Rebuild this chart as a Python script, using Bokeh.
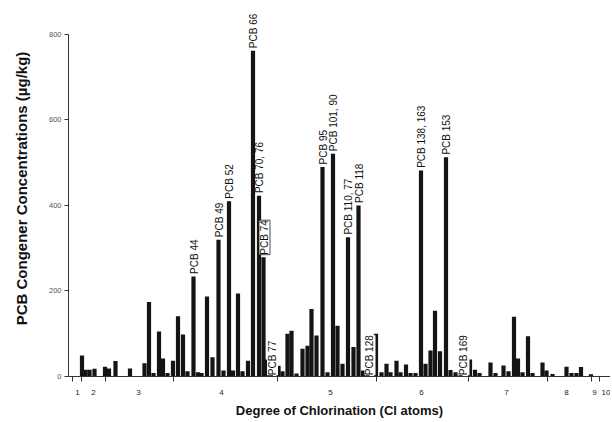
import math
from bokeh.plotting import figure
from bokeh.models import FixedTicker, Range1d, ColumnDataSource, LabelSet
from bokeh.core.properties import value
from bokeh.embed import file_html
from bokeh.resources import INLINE

# elution position along the chromatogram (arbitrary units) and concentration (µg/kg)
retention = [13.5, 17, 21, 26, 36.5, 40.5, 47, 61.5, 76, 80.5, 85, 90.5, 94.5, 99,
             104.5, 109.5, 114.5, 119, 125, 129.5, 133, 138.5, 144, 150, 155, 160.5,
             164.5, 169.5, 174, 179.5, 184.5, 190.5, 195, 198.5, 202.5, 210, 214,
             219, 223, 228, 234, 239, 243, 248, 254, 259, 264.5, 269, 274, 279.5,
             285, 290, 294.5, 299, 307.5, 313, 318, 322, 328, 332, 337.5, 342, 347,
             352.5, 357, 362, 366.5, 371.5, 377.5, 382, 387, 392, 401.5, 406.5, 411,
             422, 427, 435, 440, 445.5, 449.5, 454, 459.5, 464, 474, 478, 484, 498,
             503, 508, 512.5, 522.5]
conc = [49, 16, 16, 18, 23, 19, 36, 19, 31, 174, 8, 105, 42, 8,
        37, 141, 98, 12, 234, 10, 8, 187, 45, 320, 14, 410,
        14, 194, 12, 37, 762, 423, 279, 40, 15, 25, 12,
        100, 107, 7, 65, 72, 158, 96, 490, 10, 521, 119, 30, 326,
        69, 400, 14, 10, 100, 10, 30, 10, 37, 10, 28, 8, 8,
        482, 30, 61, 154, 59, 513, 15, 10, 8, 40, 16, 8,
        33, 8, 26, 12, 140, 42, 10, 94, 8, 33, 14, 6, 23,
        8, 8, 22, 5]

# degree of chlorination groups
homolog_labels = ["1", "2", "3", "4", "5", "6", "7", "8", "9", "10"]
homolog_centers = [9, 25, 70, 153, 262, 353, 438, 498, 526, 538]
homolog_bounds = [4, 13, 37, 105, 209, 308, 400, 479, 523, 531]

# labelled congener peaks
peak_names = ["PCB 44", "PCB 49", "PCB 52", "PCB 66", "PCB 70, 76", "PCB 74",
              "PCB 77", "PCB 95", "PCB 101, 90", "PCB 110, 77", "PCB 118",
              "PCB 128", "PCB 138, 163", "PCB 153", "PCB 169"]
peak_retention = [125, 150, 160.5, 184.5, 190.5, 195, 210, 254, 264.5, 279.5, 290,
                  307.5, 352.5, 377.5, 401.5]
peak_placement = ["above", "above", "above", "above", "above", "boxed", "beside",
                  "above", "above", "above", "above", "beside", "above", "above",
                  "beside"]

FONT = "Liberation Sans"

p = figure(width=610, height=421, output_backend="svg", toolbar_location=None,
           x_range=Range1d(0, 542), y_range=Range1d(0, 879.5),
           min_border_left=68, min_border_right=0, min_border_top=0,
           min_border_bottom=45)
p.outline_line_color = None
p.xgrid.visible = False
p.ygrid.visible = False
p.background_fill_color = "white"
p.border_fill_color = "white"

p.vbar(x=retention, top=conc, bottom=0, width=4.2,
       fill_color="#141414", line_color=None)

# labels
groups = {"above": ([], [], []), "boxed": ([], [], []), "beside": ([], [], [])}
for name, r, kind in zip(peak_names, peak_retention, peak_placement):
    i = min(range(len(retention)), key=lambda k: abs(retention[k] - r))
    if kind == "beside":
        x, y = retention[i] - 6, 3
    else:
        x, y = retention[i] + 1, conc[i] + 6
    groups[kind][0].append(x)
    groups[kind][1].append(y)
    groups[kind][2].append(name)

for kind, (xs, ys, ts) in groups.items():
    src = ColumnDataSource(dict(x=xs, y=ys, t=ts))
    kw = {}
    if kind == "boxed":
        kw = dict(background_fill_color="white", border_line_color="#222",
                  border_line_width=0.8)
    elif kind == "beside":
        kw = dict(background_fill_color="white")
    ls = LabelSet(x="x", y="y", text="t", source=src, angle=math.pi / 2,
                  text_align="left", text_baseline="middle",
                  text_font=value(FONT), text_font_size=value("10px"),
                  text_color="#111", **kw)
    p.add_layout(ls)

# x axis
xa = p.xaxis[0]
xa.ticker = FixedTicker(ticks=homolog_centers, minor_ticks=homolog_bounds)
xa.major_label_overrides = {c: l for c, l in zip(homolog_centers, homolog_labels)}
xa.major_tick_line_color = None
xa.major_tick_out = 0
xa.major_tick_in = 0
xa.minor_tick_out = 5
xa.minor_tick_in = 0
xa.minor_tick_line_color = "#333"
xa.axis_line_color = "#333"
xa.major_label_standoff = 8
xa.major_label_text_font = FONT
xa.major_label_text_font_size = "8px"
xa.major_label_text_color = "#222"
xa.axis_label = "Degree of Chlorination (Cl atoms)"
xa.axis_label_text_font = FONT
xa.axis_label_text_font_style = "bold"
xa.axis_label_text_font_size = "13px"
xa.axis_label_text_color = "#111"
xa.axis_label_standoff = 5

# y axis
ya = p.yaxis[0]
ya.ticker = FixedTicker(ticks=[0, 200, 400, 600, 800])
ya.bounds = (0, 800)
ya.minor_tick_line_color = None
ya.major_tick_out = 4
ya.major_tick_in = 0
ya.major_tick_line_color = "#333"
ya.axis_line_color = "#333"
ya.major_label_standoff = 3
ya.major_label_text_font = FONT
ya.major_label_text_font_size = "7.5px"
ya.major_label_text_color = "#555"
ya.axis_label = "PCB Congener Concentrations (µg/kg)"
ya.axis_label_text_font = FONT
ya.axis_label_text_font_style = "bold"
ya.axis_label_text_font_size = "15px"
ya.axis_label_text_color = "#111"
ya.axis_label_standoff = 16

open("out.html", "w").write(file_html(p, INLINE))
